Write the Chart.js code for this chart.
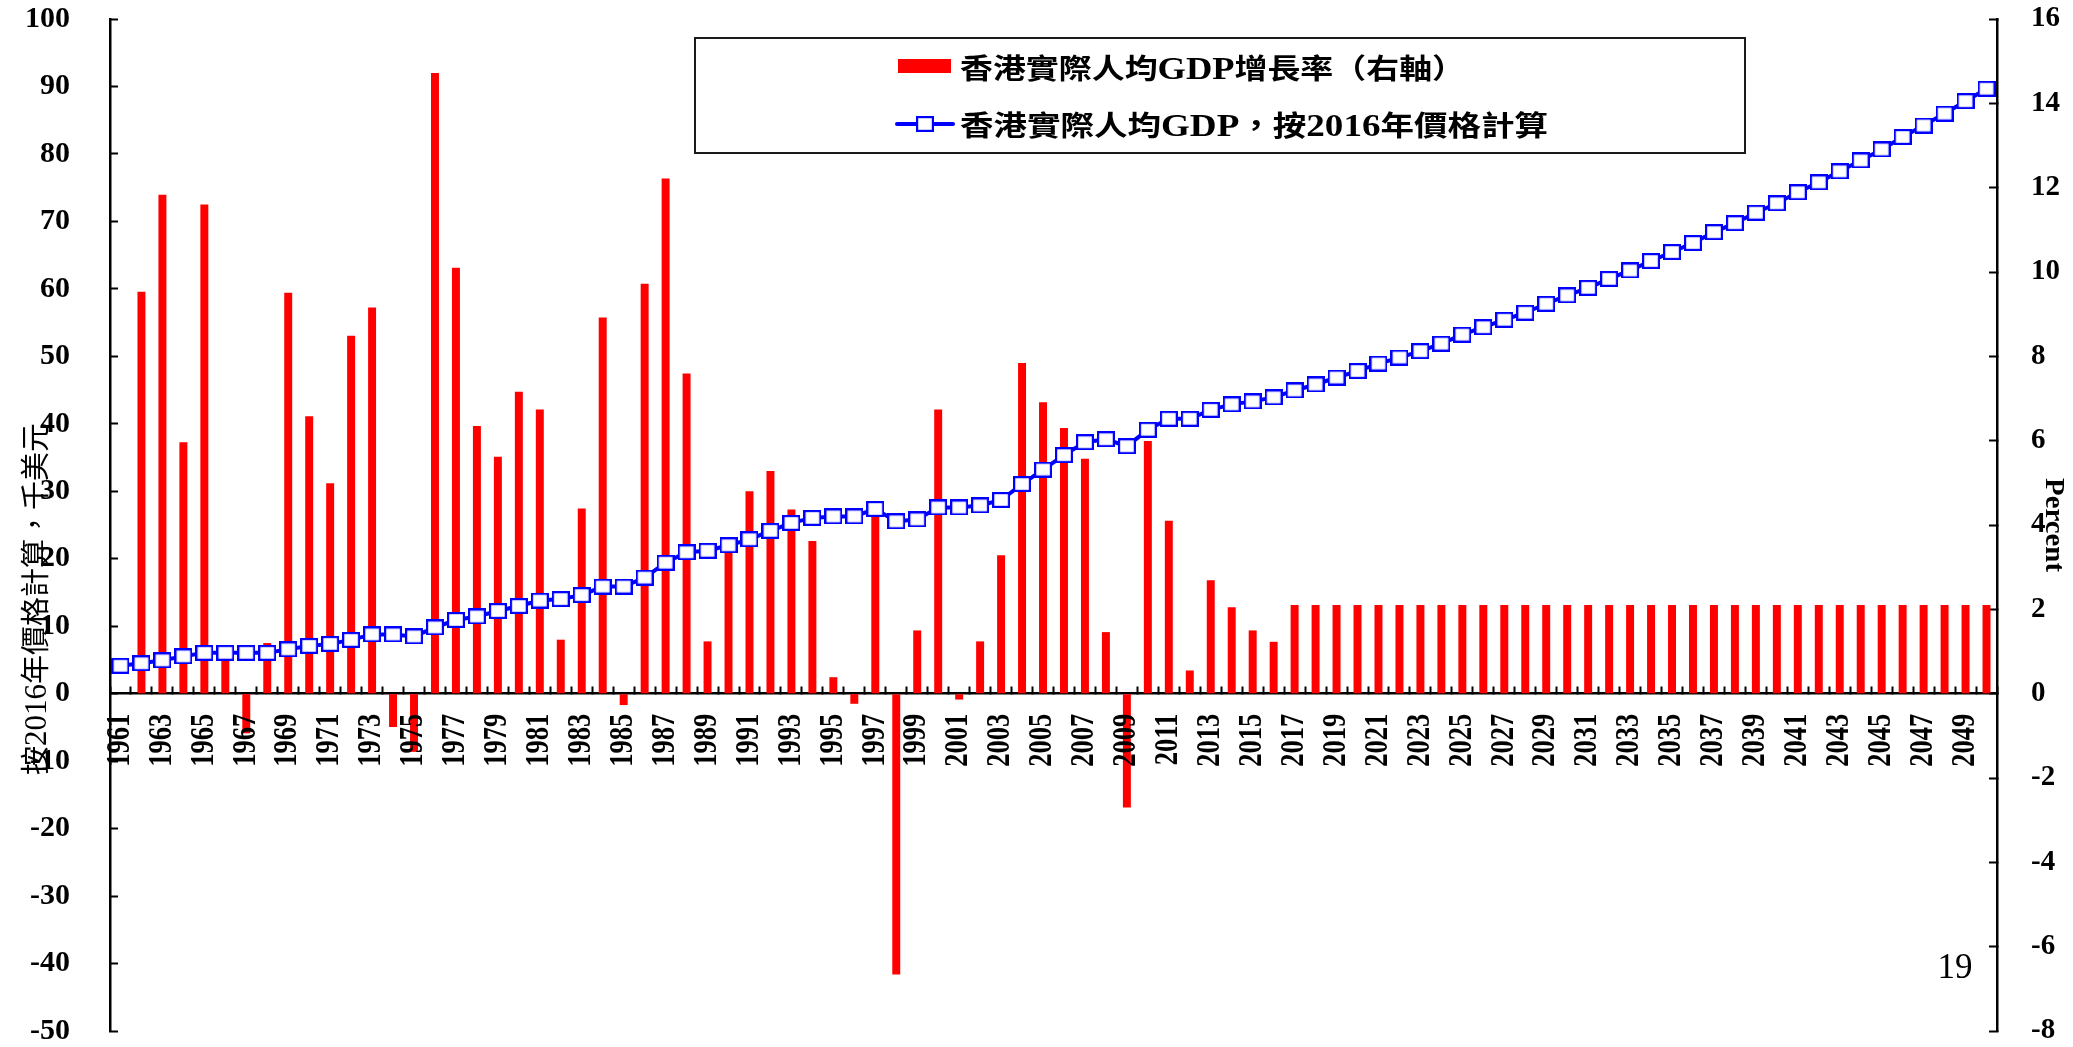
<!DOCTYPE html>
<html>
<head>
<meta charset="utf-8">
<script src="https://cdn.jsdelivr.net/npm/chart.js@4.4.1/dist/chart.umd.min.js"></script>
<style>
  html, body { margin: 0; padding: 0; background: #ffffff; }
  canvas { display: block; }
</style>
</head>
<body>
<canvas id="chart" width="2073" height="1047" style="width:2073px;height:1047px"></canvas>
<script>
// Years on the category axis
const years = [
  '1961','1962','1963','1964','1965','1966','1967','1968','1969','1970',
  '1971','1972','1973','1974','1975','1976','1977','1978','1979','1980',
  '1981','1982','1983','1984','1985','1986','1987','1988','1989','1990',
  '1991','1992','1993','1994','1995','1996','1997','1998','1999','2000',
  '2001','2002','2003','2004','2005','2006','2007','2008','2009','2010',
  '2011','2012','2013','2014','2015','2016','2017','2018','2019','2020',
  '2021','2022','2023','2024','2025','2026','2027','2028','2029','2030',
  '2031','2032','2033','2034','2035','2036','2037','2038','2039','2040',
  '2041','2042','2043','2044','2045','2046','2047','2048','2049','2050'
];

// Real per-capita GDP growth, % (right axis)
const growthRate = [
  null, 9.53, 11.83, 5.96, 11.60, 1.00, -0.94, 1.20, 9.51, 6.58,
  4.99, 8.49, 9.16, -0.79, -1.38, 14.72, 10.10, 6.35, 5.62, 7.16,
  6.74, 1.28, 4.39, 8.92, -0.27, 9.72, 12.22, 7.59, 1.24, 3.40,
  4.80, 5.28, 4.37, 3.62, 0.39, -0.24, 4.30, -6.66, 1.50, 6.74,
  -0.14, 1.24, 3.28, 7.84, 6.91, 6.30, 5.57, 1.46, -2.70, 5.99,
  4.10, 0.55, 2.69, 2.05, 1.50, 1.23, 2.1, 2.1, 2.1, 2.1,
  2.1, 2.1, 2.1, 2.1, 2.1, 2.1, 2.1, 2.1, 2.1, 2.1,
  2.1, 2.1, 2.1, 2.1, 2.1, 2.1, 2.1, 2.1, 2.1, 2.1,
  2.1, 2.1, 2.1, 2.1, 2.1, 2.1, 2.1, 2.1, 2.1, 2.1
];

// Real per-capita GDP at 2016 prices, thousand USD (left axis)
const gdpPerCapita = [
  4.13, 4.50, 4.94, 5.53, 6.05, 6.05, 6.05, 6.05, 6.57, 7.08,
  7.38, 7.97, 8.78, 8.78, 8.49, 9.82, 10.92, 11.44, 12.25, 12.99,
  13.80, 14.02, 14.61, 15.87, 15.87, 17.20, 19.41, 20.96, 21.18, 21.99,
  22.88, 24.13, 25.31, 26.05, 26.27, 26.27, 27.38, 25.54, 25.83, 27.60,
  27.60, 27.90, 28.71, 31.07, 33.21, 35.35, 37.27, 37.71, 36.68, 39.11,
  40.74, 40.74, 42.07, 42.88, 43.32, 43.91, 44.94, 45.83, 46.86, 47.82,
  48.93, 49.82, 50.77, 51.88, 53.21, 54.32, 55.42, 56.46, 57.79, 59.04,
  60.15, 61.48, 62.73, 64.13, 65.46, 66.79, 68.41, 69.74, 71.29, 72.69,
  74.32, 75.79, 77.42, 79.04, 80.66, 82.51, 84.21, 85.98, 87.82, 89.67
];

// Axis ranges and tick steps
const leftRange = [-50, 100, 10];
const rightRange = [-8, 16, 2];

// Texts
const growthLabel = '香港實際人均GDP增長率（右軸）';
const gdpLabel = '香港實際人均GDP，按2016年價格計算';
const leftTitle = '按2016年價格計算，千美元';
const rightTitle = 'Percent';
const pageNumber = '19';

const LATIN = "'Liberation Serif', 'Times New Roman', serif";
const CJK = "'Noto Sans CJK TC', 'Noto Sans CJK SC', sans-serif";
const RED = '#ff0000';
const BLUE = '#0000ff';

// Hollow square marker used by the GDP line
function makeMarker() {
  const c = document.createElement('canvas');
  c.width = 18; c.height = 16;
  const g = c.getContext('2d');
  g.fillStyle = '#ffffff';
  g.fillRect(1, 1, 16, 14);
  g.strokeStyle = BLUE;
  g.lineWidth = 2.2;
  g.strokeRect(1.1, 1.1, 15.8, 13.8);
  return c;
}
const marker = makeMarker();

// Split a string into Latin and CJK runs so each gets its own font
function splitRuns(text) {
  const runs = [];
  for (const ch of text) {
    const latin = ch.charCodeAt(0) < 0x2000;
    const last = runs[runs.length - 1];
    if (last && last.latin === latin) last.t += ch;
    else runs.push({ t: ch, latin });
  }
  return runs;
}

// Draw mixed text stretched along its direction to a given length
function drawFitted(ctx, text, x, y, length, fonts, angle) {
  const runs = splitRuns(text);
  let w = 0;
  runs.forEach(r => {
    ctx.font = r.latin ? fonts.latin : fonts.cjk;
    r.w = ctx.measureText(r.t).width;
    w += r.w;
  });
  ctx.save();
  ctx.translate(x, y);
  ctx.rotate(angle || 0);
  ctx.scale(length / w, 1);
  ctx.textAlign = 'left';
  ctx.textBaseline = 'alphabetic';
  ctx.fillStyle = '#000000';
  let cx = 0;
  runs.forEach(r => {
    ctx.font = r.latin ? fonts.latin : fonts.cjk;
    ctx.fillText(r.t, cx, 0);
    cx += r.w;
  });
  ctx.restore();
}

// Year labels under the zero line, boxed legend, axis titles and page number
const decorations = {
  id: 'decorations',
  afterDraw(chart) {
    const ctx = chart.ctx;
    const ds = chart.data.datasets;
    const xs = chart.scales.x;
    const y0 = chart.scales.yL.getPixelForValue(0);
    ctx.save();

    // year labels, every second year, reading upward
    ctx.fillStyle = '#000000';
    ctx.font = 'bold 34px ' + LATIN;
    ctx.textAlign = 'right';
    ctx.textBaseline = 'middle';
    chart.data.labels.forEach((yr, i) => {
      if (i % 2 !== 0) return;
      ctx.save();
      ctx.translate(xs.getPixelForValue(i) - 0.5, y0 + 20);
      ctx.rotate(-Math.PI / 2);
      ctx.scale(0.78, 1);
      ctx.fillText(yr, 0, 0);
      ctx.restore();
    });

    // legend frame
    ctx.fillStyle = '#ffffff';
    ctx.fillRect(695, 38, 1050, 115);
    ctx.strokeStyle = '#1a1a1a';
    ctx.lineWidth = 2;
    ctx.strokeRect(695, 38, 1050, 115);

    // bar series entry
    ctx.fillStyle = ds[0].backgroundColor;
    ctx.fillRect(898, 59, 53, 14);
    drawFitted(ctx, ds[0].label, 960, 79, 505,
      { latin: 'bold 31px ' + LATIN, cjk: 'bold 28px ' + CJK });

    // line series entry
    ctx.strokeStyle = ds[1].borderColor;
    ctx.lineWidth = 4;
    ctx.lineCap = 'round';
    ctx.beginPath();
    ctx.moveTo(897, 124);
    ctx.lineTo(953, 124);
    ctx.stroke();
    ctx.drawImage(marker, 925 - marker.width / 2, 124 - marker.height / 2);
    drawFitted(ctx, ds[1].label, 960, 136, 588,
      { latin: 'bold 31px ' + LATIN, cjk: 'bold 28px ' + CJK });

    // left axis title (reads bottom to top)
    drawFitted(ctx, leftTitle, 46, 775, 352,
      { latin: '31px ' + LATIN, cjk: '29px ' + CJK }, -Math.PI / 2);

    // right axis title (reads top to bottom)
    drawFitted(ctx, rightTitle, 2046, 478, 94,
      { latin: 'bold 28px ' + LATIN, cjk: 'bold 28px ' + CJK }, Math.PI / 2);

    // page number
    ctx.fillStyle = '#000000';
    ctx.font = '35px ' + LATIN;
    ctx.textAlign = 'center';
    ctx.textBaseline = 'alphabetic';
    ctx.fillText(pageNumber, 1955, 978);

    ctx.restore();
  }
};

new Chart(document.getElementById('chart'), {
  type: 'bar',
  data: {
    labels: years,
    datasets: [
      {
        type: 'bar',
        label: growthLabel,
        data: growthRate,
        yAxisID: 'yR',
        backgroundColor: RED,
        borderWidth: 0,
        barPercentage: 0.38,
        categoryPercentage: 1,
        order: 1
      },
      {
        type: 'line',
        label: gdpLabel,
        data: gdpPerCapita,
        yAxisID: 'yL',
        borderColor: BLUE,
        backgroundColor: '#ffffff',
        borderWidth: 4,
        pointStyle: marker,
        pointRadius: 8,
        pointHoverRadius: 8,
        tension: 0,
        fill: false,
        order: 0
      }
    ]
  },
  options: {
    responsive: false,
    animation: false,
    devicePixelRatio: 1,
    layout: { padding: { top: 19, bottom: 16, left: 0, right: 0 } },
    plugins: {
      legend: { display: false },
      tooltip: { enabled: false }
    },
    scales: {
      x: {
        type: 'category',
        position: { yL: 0 },
        offset: true,
        grid: {
          display: true,
          drawOnChartArea: false,
          drawTicks: true,
          tickLength: -8,
          tickWidth: 2,
          color: '#000000',
          offset: true
        },
        border: { display: true, color: '#000000', width: 2.5 },
        ticks: { display: false, autoSkip: false },
        afterFit: (s) => { s.height = 0; s.paddingLeft = 0; s.paddingRight = 0; }
      },
      yL: {
        type: 'linear',
        position: 'left',
        min: leftRange[0],
        max: leftRange[1],
        grid: {
          display: true,
          drawOnChartArea: false,
          tickLength: -8,
          tickWidth: 2,
          color: '#000000'
        },
        border: { display: true, color: '#000000', width: 2.5 },
        ticks: {
          stepSize: leftRange[2],
          padding: 48,
          color: '#000000',
          font: { family: LATIN, weight: 'bold', size: 30 }
        },
        afterFit: (s) => { s.width = 110; s.paddingTop = 0; s.paddingBottom = 0; }
      },
      yR: {
        type: 'linear',
        position: 'right',
        min: rightRange[0],
        max: rightRange[1],
        grid: {
          display: true,
          drawOnChartArea: false,
          tickLength: -8,
          tickWidth: 2,
          color: '#000000'
        },
        border: { display: true, color: '#000000', width: 2.5 },
        ticks: {
          stepSize: rightRange[2],
          padding: 42,
          color: '#000000',
          font: { family: LATIN, weight: 'bold', size: 29 }
        },
        afterFit: (s) => { s.width = 76; s.paddingTop = 0; s.paddingBottom = 0; }
      }
    }
  },
  plugins: [decorations]
});
</script>
</body>
</html>
